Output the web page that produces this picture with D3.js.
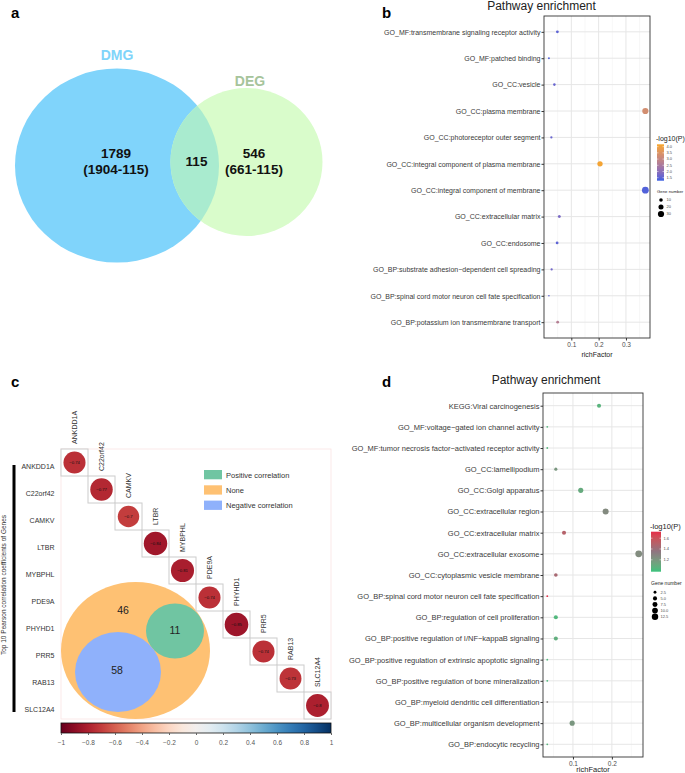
<!DOCTYPE html>
<html>
<head>
<meta charset="utf-8">
<script src="https://cdn.jsdelivr.net/npm/d3@7"></script>
<style>
  body { margin: 0; background: #fff; }
  svg { display: block; font-family: "Liberation Sans", Arial, sans-serif; }
</style>
</head>
<body>
<div id="chart"></div>
<script>
// ---- panel a : Venn counts ----
var vennSets = ["DMG", "DEG"];
var vennTotals = [1904, 661];
var vennShared = 115;

// ---- panel b : enrichment of the overlap genes ----
var bTerms = [
  "GO_MF:transmembrane signaling receptor activity",
  "GO_MF:patched binding",
  "GO_CC:vesicle",
  "GO_CC:plasma membrane",
  "GO_CC:photoreceptor outer segment",
  "GO_CC:integral component of plasma membrane",
  "GO_CC:integral component of membrane",
  "GO_CC:extracellular matrix",
  "GO_CC:endosome",
  "GO_BP:substrate adhesion\u2212dependent cell spreading",
  "GO_BP:spinal cord motor neuron cell fate specification",
  "GO_BP:potassium ion transmembrane transport"
];
var bRich = [0.049, 0.018, 0.038, 0.371, 0.027, 0.205, 0.371, 0.056, 0.048, 0.028, 0.018, 0.050];
var bLogP = [1.5, 1.4, 1.6, 3.3, 1.6, 4.1, 1.4, 1.8, 1.5, 1.7, 1.5, 2.7];
var bGenes = [6, 3, 5, 30, 4, 22, 36, 7, 6, 4, 2, 6];
var bXTicks = [0.1, 0.2, 0.3];
var bColorTicks = [1.5, 2.0, 2.5, 3.0, 3.5, 4.0];
var bSizeTicks = [10, 20, 30];

// ---- panel c : correlation of top 10 genes ----
var cGenes = ["ANKDD1A", "C22orf42", "CAMKV", "LTBR", "MYBPHL", "PDE9A", "PHYHD1", "PRR5", "RAB13", "SLC12A4"];
var cCorr = [-0.74, -0.77, -0.7, -0.84, -0.81, -0.74, -0.85, -0.74, -0.73, -0.8];
var cGroups = ["Positive correlation", "None", "Negative correlation"];
var cGroupCounts = [11, 46, 58];
var cBarTicks = [-1, -0.8, -0.6, -0.4, -0.2, 0, 0.2, 0.4, 0.6, 0.8, 1];

// ---- panel d : enrichment ----
var dTerms = [
  "KEGG:Viral carcinogenesis",
  "GO_MF:voltage\u2212gated ion channel activity",
  "GO_MF:tumor necrosis factor\u2212activated receptor activity",
  "GO_CC:lamellipodium",
  "GO_CC:Golgi apparatus",
  "GO_CC:extracellular region",
  "GO_CC:extracellular matrix",
  "GO_CC:extracellular exosome",
  "GO_CC:cytoplasmic vesicle membrane",
  "GO_BP:spinal cord motor neuron cell fate specification",
  "GO_BP:regulation of cell proliferation",
  "GO_BP:positive regulation of I/NF\u2212kappaB signaling",
  "GO_BP:positive regulation of extrinsic apoptotic signaling",
  "GO_BP:positive regulation of bone mineralization",
  "GO_BP:myeloid dendritic cell differentiation",
  "GO_BP:multicellular organism development",
  "GO_BP:endocytic recycling"
];
var dRich = [0.167, 0.034, 0.034, 0.056, 0.120, 0.184, 0.077, 0.269, 0.056, 0.034, 0.056, 0.056, 0.034, 0.034, 0.034, 0.098, 0.034];
var dLogP = [1.05, 1.05, 1.05, 1.2, 1.1, 1.26, 1.5, 1.25, 1.45, 1.7, 1.03, 1.08, 1.03, 1.03, 1.3, 1.2, 1.05];
var dGenes = [5, 1, 1, 3, 8, 11, 5, 14, 4, 1, 5, 5, 1, 1, 1, 8, 1];
var dXTicks = [0.1, 0.2];
var dColorTicks = [1.2, 1.4, 1.6];
var dSizeTicks = [2.5, 5, 7.5, 10, 12.5];

var svg = d3.select("#chart").append("svg")
  .attr("width", 685)
  .attr("height", 773);
var defs = svg.append("defs");

// panel letters
function panelLetter(txt, x, y) {
  svg.append("text").attr("x", x).attr("y", y)
    .style("font-size", "15px").style("font-weight", "bold").text(txt);
}
panelLetter("a", 11, 18);
panelLetter("b", 382, 18);
panelLetter("c", 11, 387);
panelLetter("d", 382, 387);

// ================= panel a =================
var pa = svg.append("g");
var aShape = [
  { cx: 117, cy: 165.5, rx: 102, ry: 97, fill: "#80d4fb", label: "#80d4fa", lx: 117, ly: 60 },
  { cx: 246.5, cy: 162, rx: 76, ry: 74, fill: "#d9fccb", label: "#a6c49b", lx: 250, ly: 86 }
];
pa.selectAll("ellipse.set").data(aShape).enter().append("ellipse")
  .attr("class", "set")
  .attr("cx", function(d) { return d.cx; })
  .attr("cy", function(d) { return d.cy; })
  .attr("rx", function(d) { return d.rx; })
  .attr("ry", function(d) { return d.ry; })
  .style("fill", function(d) { return d.fill; });
// overlap region
defs.append("clipPath").attr("id", "clipDMG").append("ellipse")
  .attr("cx", aShape[0].cx).attr("cy", aShape[0].cy)
  .attr("rx", aShape[0].rx).attr("ry", aShape[0].ry);
pa.append("ellipse")
  .attr("clip-path", "url(#clipDMG)")
  .attr("cx", aShape[1].cx).attr("cy", aShape[1].cy)
  .attr("rx", aShape[1].rx).attr("ry", aShape[1].ry)
  .style("fill", "#a9ebcf");
pa.selectAll("text.setname").data(vennSets).enter().append("text")
  .attr("class", "setname")
  .attr("x", function(d, i) { return aShape[i].lx; })
  .attr("y", function(d, i) { return aShape[i].ly; })
  .attr("text-anchor", "middle")
  .style("font-size", "14px").style("font-weight", "bold")
  .style("fill", function(d, i) { return aShape[i].label; })
  .text(function(d) { return d; });
var aOnly = [
  { x: 116, lines: [vennTotals[0] - vennShared, "(" + vennTotals[0] + "-" + vennShared + ")"] },
  { x: 254, lines: [vennTotals[1] - vennShared, "(" + vennTotals[1] + "-" + vennShared + ")"] }
];
aOnly.forEach(function(d) {
  d.lines.forEach(function(t, j) {
    pa.append("text").attr("x", d.x).attr("y", 158 + j * 16)
      .attr("text-anchor", "middle")
      .style("font-size", "13.5px").style("font-weight", "bold").style("fill", "#111")
      .text(t);
  });
});
pa.append("text").attr("x", 196.5).attr("y", 166)
  .attr("text-anchor", "middle")
  .style("font-size", "13.5px").style("font-weight", "bold").style("fill", "#111")
  .text(vennShared);

// ================= enrichment dot plots (b, d) =================
function enrichPanel(p) {
  var g = svg.append("g");
  var x = d3.scaleLinear().domain(p.xDomain).range([p.left, p.right]);
  var y = d3.scalePoint().domain(p.terms).range([p.top, p.bottom]).padding(0.6);
  var color = d3.scaleLinear().domain(p.colorStops).range(p.colorRange)
    .interpolate(d3.interpolateLab).clamp(true);
  var size = d3.scaleSqrt().domain([0, p.sizeMax]).range([0, p.rMax]);

  // minor and major grid
  g.selectAll(".minor").data(p.minorTicks).enter().append("line")
    .attr("x1", function(d) { return x(d); })
    .attr("x2", function(d) { return x(d); })
    .attr("y1", p.top).attr("y2", p.bottom)
    .style("stroke", "#eeeeee").style("stroke-width", 0.5);
  g.selectAll(".major").data(p.ticks).enter().append("line")
    .attr("x1", function(d) { return x(d); })
    .attr("x2", function(d) { return x(d); })
    .attr("y1", p.top).attr("y2", p.bottom)
    .style("stroke", "#e6e6e6").style("stroke-width", 1);
  g.selectAll(".hgrid").data(p.terms).enter().append("line")
    .attr("x1", p.left).attr("x2", p.right)
    .attr("y1", function(d) { return y(d); })
    .attr("y2", function(d) { return y(d); })
    .style("stroke", "#e6e6e6").style("stroke-width", 1);

  var rows = p.terms.map(function(t, i) {
    return { term: t, rich: p.rich[i], logp: p.logp[i], genes: p.genes[i] };
  });
  g.selectAll(".dot").data(rows).enter().append("circle")
    .attr("class", "dot")
    .attr("cx", function(d) { return x(d.rich); })
    .attr("cy", function(d) { return y(d.term); })
    .attr("r", function(d) { return size(d.genes); })
    .style("fill", function(d) { return color(d.logp); });

  g.append("rect")
    .attr("x", p.left).attr("y", p.top)
    .attr("width", p.right - p.left).attr("height", p.bottom - p.top)
    .style("fill", "none").style("stroke", "#333").style("stroke-width", 0.9);

  // axes
  var xa = g.append("g")
    .attr("transform", "translate(0," + p.bottom + ")")
    .call(d3.axisBottom(x).tickValues(p.ticks).tickSize(2.5).tickPadding(1.5).tickFormat(d3.format(".1f")));
  xa.select(".domain").remove();
  xa.attr("font-family", null);
  xa.selectAll("text").style("font-size", "6.5px").style("fill", "#4d4d4d");
  xa.selectAll("line").style("stroke", "#333");

  var ya = g.append("g")
    .attr("transform", "translate(" + p.left + ",0)")
    .call(d3.axisLeft(y).tickSize(2.5).tickPadding(1));
  ya.select(".domain").remove();
  ya.attr("font-family", null);
  ya.selectAll("text").style("font-size", p.labelSize).style("fill", "#3a3a3a");
  ya.selectAll("line").style("stroke", "#333");

  g.append("text")
    .attr("x", (p.left + p.right) / 2).attr("y", p.xTitleY)
    .attr("text-anchor", "middle")
    .style("font-size", p.xTitleSize).style("fill", "#222")
    .text("richFactor");
  g.append("text")
    .attr("x", p.titleX).attr("y", p.titleY)
    .attr("text-anchor", "middle")
    .style("font-size", "12px").style("fill", "#222")
    .text("Pathway enrichment");

  // colour legend
  var lg = p.legend;
  var grad = defs.append("linearGradient").attr("id", p.id + "grad")
    .attr("x1", 0).attr("y1", 1).attr("x2", 0).attr("y2", 0);
  d3.range(0, 1.001, 0.1).forEach(function(t) {
    var v = lg.domain[0] + t * (lg.domain[1] - lg.domain[0]);
    grad.append("stop").attr("offset", t).attr("stop-color", color(v));
  });
  var cy = d3.scaleLinear().domain(lg.domain).range([lg.barBottom, lg.barTop]);
  g.append("text").attr("x", lg.x - 1).attr("y", lg.barTop - 3)
    .style("font-size", lg.titleSize).style("fill", "#222").text("-log10(P)");
  g.append("rect").attr("x", lg.x).attr("y", lg.barTop)
    .attr("width", lg.barW).attr("height", lg.barBottom - lg.barTop)
    .style("fill", "url(#" + p.id + "grad)");
  g.selectAll(".ctick").data(p.colorTicks).enter().append("line")
    .attr("x1", lg.x).attr("x2", lg.x + 1.5)
    .attr("y1", function(d) { return cy(d); })
    .attr("y2", function(d) { return cy(d); })
    .style("stroke", "#fff").style("stroke-width", 0.5);
  g.selectAll(".ctick2").data(p.colorTicks).enter().append("line")
    .attr("x1", lg.x + lg.barW - 1.5).attr("x2", lg.x + lg.barW)
    .attr("y1", function(d) { return cy(d); })
    .attr("y2", function(d) { return cy(d); })
    .style("stroke", "#fff").style("stroke-width", 0.5);
  g.selectAll(".clab").data(p.colorTicks).enter().append("text")
    .attr("x", lg.x + lg.barW + 2.5)
    .attr("y", function(d) { return cy(d) + 1.4; })
    .style("font-size", "4px").style("fill", "#4d4d4d")
    .text(function(d) { return d3.format(".1f")(d); });

  // size legend
  g.append("text").attr("x", lg.x).attr("y", lg.sizeTitleY)
    .style("font-size", lg.sizeTitleSize).style("fill", "#222").text("Gene number");
  var sy = function(i) { return lg.sizeTop + i * lg.sizeStep; };
  g.selectAll(".skey").data(p.sizeTicks).enter().append("circle")
    .attr("cx", lg.x + 4)
    .attr("cy", function(d, i) { return sy(i); })
    .attr("r", function(d) { return size(d); })
    .style("fill", "#000");
  g.selectAll(".slab").data(p.sizeTicks).enter().append("text")
    .attr("x", lg.x + 9.5)
    .attr("y", function(d, i) { return sy(i) + 1.4; })
    .style("font-size", "4px").style("fill", "#4d4d4d")
    .text(function(d) { return p.sizeFormat(d); });
}

enrichPanel({
  id: "b",
  terms: bTerms, rich: bRich, logp: bLogP, genes: bGenes,
  left: 544, right: 650, top: 16, bottom: 338,
  xDomain: [0, 0.388],
  ticks: bXTicks, minorTicks: [0.05, 0.15, 0.25, 0.35],
  colorStops: [1.26, 4.19], colorRange: ["#3b5fe2", "#f8a62a"],
  sizeMax: 36, rMax: 3.4,
  colorTicks: bColorTicks, sizeTicks: bSizeTicks,
  sizeFormat: d3.format("d"),
  labelSize: "7px", xTitleY: 357, xTitleSize: "7px",
  titleX: 541.5, titleY: 9.5,
  legend: { x: 657, barW: 7, barTop: 144.3, barBottom: 180.7, domain: [1.26, 4.19],
            titleSize: "7px", sizeTitleY: 193.3, sizeTitleSize: "4.3px",
            sizeTop: 200, sizeStep: 7 }
});

enrichPanel({
  id: "d",
  terms: dTerms, rich: dRich, logp: dLogP, genes: dGenes,
  left: 543, right: 643, top: 393, bottom: 757,
  xDomain: [0.023, 0.28],
  ticks: dXTicks, minorTicks: [0.05, 0.15, 0.25],
  colorStops: [0.98, 1.36, 1.72], colorRange: ["#3cc27c", "#8f7480", "#e52c48"],
  sizeMax: 14, rMax: 3.4,
  colorTicks: dColorTicks, sizeTicks: dSizeTicks,
  sizeFormat: d3.format(".1f"),
  labelSize: "7.5px", xTitleY: 772, xTitleSize: "7.5px",
  titleX: 546, titleY: 384,
  legend: { x: 651, barW: 10, barTop: 531.7, barBottom: 571.7, domain: [0.98, 1.72],
            titleSize: "7.5px", sizeTitleY: 585, sizeTitleSize: "5px",
            sizeTop: 592.3, sizeStep: 6.1 }
});

// ================= panel c =================
var pc = svg.append("g");
var cx = d3.scaleBand().domain(cGenes).range([61, 331]);
var cy = d3.scaleBand().domain(cGenes).range([449, 719]);
var bw = cx.bandwidth();
var corrColor = d3.scaleSequential(function(t) { return d3.interpolateRdBu(t); }).domain([-1, 1]);

// light frame of the plotting region
pc.append("rect").attr("x", 61).attr("y", 449).attr("width", 270).attr("height", 270)
  .style("fill", "none").style("stroke", "#fbe3e3").style("stroke-width", 0.8);

// venn of correlation groups
var cVennLayout = [
  { cx: 175, cy: 631, rx: 29, ry: 27.5, fill: "#70c5a2", tx: 175, ty: 630 },
  { cx: 135.5, cy: 650.5, rx: 74.5, ry: 68.5, fill: "#fec173", tx: 123, ty: 610 },
  { cx: 118, cy: 672, rx: 43, ry: 40, fill: "#8fb1fb", tx: 117, ty: 670 }
];
var cOrder = [1, 0, 2];
pc.selectAll("ellipse.grp").data(cOrder).enter().append("ellipse")
  .attr("class", "grp")
  .attr("cx", function(i) { return cVennLayout[i].cx; })
  .attr("cy", function(i) { return cVennLayout[i].cy; })
  .attr("rx", function(i) { return cVennLayout[i].rx; })
  .attr("ry", function(i) { return cVennLayout[i].ry; })
  .style("fill", function(i) { return cVennLayout[i].fill; });
pc.selectAll("text.grpn").data(cGroupCounts).enter().append("text")
  .attr("class", "grpn")
  .attr("x", function(d, i) { return cVennLayout[i].tx; })
  .attr("y", function(d, i) { return cVennLayout[i].ty; })
  .attr("dy", "0.36em")
  .attr("text-anchor", "middle")
  .style("font-size", "10.5px").style("fill", "#222")
  .text(function(d) { return d; });

// group legend
pc.selectAll("rect.gkey").data(cGroups).enter().append("rect")
  .attr("class", "gkey")
  .attr("x", 204).attr("y", function(d, i) { return 470 + i * 15.3; })
  .attr("width", 18).attr("height", 9.3)
  .style("fill", function(d, i) { return cVennLayout[i].fill; });
pc.selectAll("text.gkey").data(cGroups).enter().append("text")
  .attr("class", "gkey")
  .attr("x", 226).attr("y", function(d, i) { return 477.5 + i * 15.3; })
  .style("font-size", "7.5px").style("fill", "#333")
  .text(function(d) { return d; });

// diagonal cells
var cells = cGenes.map(function(gname, i) { return { gene: gname, r: cCorr[i] }; });
pc.selectAll("rect.cell").data(cells).enter().append("rect")
  .attr("class", "cell")
  .attr("x", function(d) { return cx(d.gene); })
  .attr("y", function(d) { return cy(d.gene); })
  .attr("width", bw).attr("height", bw)
  .style("fill", "#fff").style("stroke", "#cccccc").style("stroke-width", 1);
pc.selectAll("circle.corr").data(cells).enter().append("circle")
  .attr("class", "corr")
  .attr("cx", function(d) { return cx(d.gene) + bw / 2; })
  .attr("cy", function(d) { return cy(d.gene) + bw / 2; })
  .attr("r", function(d) { return 0.475 * bw * Math.sqrt(Math.abs(d.r)); })
  .style("fill", function(d) { return corrColor(d.r); });
pc.selectAll("text.corr").data(cells).enter().append("text")
  .attr("class", "corr")
  .attr("x", function(d) { return cx(d.gene) + bw / 2; })
  .attr("y", function(d) { return cy(d.gene) + bw / 2 + 1.5; })
  .attr("text-anchor", "middle")
  .style("font-size", "4.2px").style("fill", "#111")
  .text(function(d) { return d3.format("~g")(d.r); });

// row and column labels
pc.selectAll("text.rowlab").data(cGenes).enter().append("text")
  .attr("class", "rowlab")
  .attr("x", 54.5)
  .attr("y", function(d) { return cy(d) + bw / 2 + 6.5; })
  .attr("text-anchor", "end")
  .style("font-size", "7px").style("fill", "#333")
  .text(function(d) { return d; });
pc.selectAll("text.collab").data(cGenes).enter().append("text")
  .attr("class", "collab")
  .attr("transform", function(d) {
    return "translate(" + (cx(d) + bw / 2 + 2.5) + "," + (cy(d) - 5) + ") rotate(-90)";
  })
  .style("font-size", "7px").style("fill", "#333")
  .text(function(d) { return d; });

// side bar and title
pc.append("rect").attr("x", 12.5).attr("y", 465).attr("width", 3).attr("height", 247)
  .style("fill", "#000");
pc.append("text")
  .attr("transform", "translate(6,585) rotate(-90)")
  .attr("text-anchor", "middle")
  .style("font-size", "6.5px").style("fill", "#333")
  .text("Top 10 Pearson correlation coefficients of Genes");

// colour bar
var cbx = d3.scaleLinear().domain([-1, 1]).range([61, 331]);
var cgrad = defs.append("linearGradient").attr("id", "corrgrad");
d3.range(0, 1.0001, 0.05).forEach(function(t) {
  cgrad.append("stop").attr("offset", t).attr("stop-color", d3.interpolateRdBu(t));
});
pc.append("rect").attr("x", 61).attr("y", 723).attr("width", 270).attr("height", 10)
  .style("fill", "url(#corrgrad)").style("stroke", "#111").style("stroke-width", 0.8);
var cba = pc.append("g").attr("transform", "translate(0,733)")
  .call(d3.axisBottom(cbx).tickValues(cBarTicks).tickSize(2).tickPadding(5)
    .tickFormat(function(d) { return d3.format("~g")(d); }));
cba.select(".domain").remove();
cba.attr("font-family", null);
cba.selectAll("text").style("font-size", "6.5px").style("fill", "#555");
cba.selectAll("line").style("stroke", "#666");
</script>
</body>
</html>
